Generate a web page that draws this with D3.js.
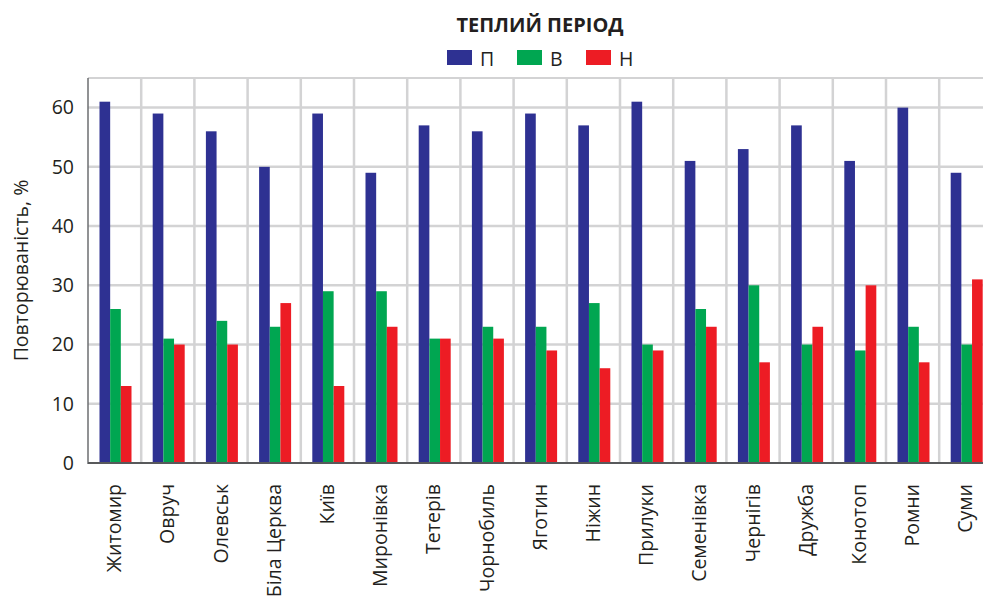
<!DOCTYPE html>
<html><head><meta charset="utf-8">
<script src="https://cdn.jsdelivr.net/npm/d3@7"></script>
<style>body{margin:0;background:#fff;} svg{display:block;font-family:"Open Sans",sans-serif;}</style>
</head><body>
<svg id="chart" width="983" height="598"></svg>
<script>
const categories = ["Житомир","Овруч","Олевськ","Біла Церква","Київ","Миронівка","Тетерів","Чорнобиль","Яготин","Ніжин","Прилуки","Семенівка","Чернігів","Дружба","Конотоп","Ромни","Суми"];
const seriesNames = ["П","В","Н"];
const valuesP = [61,59,56,50,59,49,57,56,59,57,61,51,53,57,51,60,49];
const valuesV = [26,21,24,23,29,29,21,23,23,27,20,26,30,20,19,23,20];
const valuesN = [13,20,20,27,13,23,21,21,19,16,19,23,17,23,30,17,31];
const yTicks = [0,10,20,30,40,50,60];
const colors = ["#2e3192","#00a651","#ed1c24"];
const title = "ТЕПЛИЙ ПЕРІОД";
const yTitle = "Повторюваність, %";

const series = [valuesP, valuesV, valuesN];
const svg = d3.select("#chart");
const mLeft = 88, mTop = 78, mBottom = 463, bandW = 53.2;
const fs = 19.5;
const x = d3.scaleBand().domain(categories).range([mLeft, mLeft + bandW*categories.length]).padding(0);
const y = d3.scaleLinear().domain([0,65]).range([mBottom, mTop]);
const xs = d3.scaleBand().domain(seriesNames).range([11.5, 43.5]).padding(0);

// gridlines
const g = svg.append("g");
g.selectAll(".hg").data(yTicks.filter(d=>d>0)).join("line")
  .attr("x1", mLeft).attr("x2", 983).attr("y1", d=>y(d)).attr("y2", d=>y(d))
  .attr("stroke", "#d3d3d4").attr("stroke-width", 2.5);
g.append("line").attr("x1", mLeft).attr("x2", 983).attr("y1", mTop).attr("y2", mTop)
  .attr("stroke", "#d3d3d4").attr("stroke-width", 2);
g.selectAll(".vg").data(categories.slice(1)).join("line")
  .attr("x1", d=>x(d)).attr("x2", d=>x(d)).attr("y1", mTop).attr("y2", mBottom)
  .attr("stroke", "#d3d3d4").attr("stroke-width", 2.5);

// bars
const groups = svg.append("g").selectAll("g").data(categories).join("g")
  .attr("transform", d=>`translate(${x(d)},0)`);
groups.selectAll("rect").data((c,i)=>seriesNames.map((s,j)=>({s, v: series[j][i], j})))
  .join("rect")
  .attr("x", d=>xs(d.s)).attr("width", xs.bandwidth())
  .attr("y", d=>y(d.v)).attr("height", d=>mBottom - y(d.v))
  .attr("fill", d=>colors[d.j]);

// axes frame
svg.append("line").attr("x1", mLeft).attr("x2", mLeft).attr("y1", mTop).attr("y2", mBottom+1)
  .attr("stroke", "#6d6e71").attr("stroke-width", 1.5);
svg.append("line").attr("x1", mLeft).attr("x2", 983).attr("y1", mBottom).attr("y2", mBottom)
  .attr("stroke", "#58595b").attr("stroke-width", 2);

// y axis
const yAxis = d3.axisLeft(y).tickValues(yTicks).tickSize(0).tickPadding(14);
const ya = svg.append("g").attr("transform", `translate(${mLeft},0)`).call(yAxis);
ya.select(".domain").remove();
ya.selectAll("text").attr("font-size", fs).attr("fill", "#231f20").attr("font-family", "'Open Sans',sans-serif");

// x axis
const xAxis = d3.axisBottom(x).tickSize(0).tickPadding(0);
const xa = svg.append("g").attr("transform", `translate(0,${mBottom})`).call(xAxis);
xa.select(".domain").remove();
xa.selectAll("text").attr("font-size", fs).attr("fill", "#231f20").attr("font-family", "'Open Sans',sans-serif")
  .attr("text-anchor", "end").attr("dy", null).attr("y", null)
  .attr("transform", "translate(-1,21) rotate(-90)").attr("dominant-baseline", "central");

// y title
svg.append("text").attr("transform", `translate(20,${(mTop+mBottom)/2}) rotate(-90)`)
  .attr("text-anchor", "middle").attr("dominant-baseline", "central")
  .attr("font-size", fs).attr("fill", "#231f20").text(yTitle);

// title
svg.append("text").attr("x", 540).attr("y", 32).attr("text-anchor", "middle")
  .attr("font-size", 20).attr("font-weight", "bold").attr("fill", "#231f20").text(title);

// legend
const legX = [447, 517, 586];
const leg = svg.append("g").selectAll("g").data(seriesNames).join("g")
  .attr("transform", (d,i)=>`translate(${legX[i]},50)`);
leg.append("rect").attr("width", 25).attr("height", 15).attr("fill", (d,i)=>colors[i]);
leg.append("text").attr("x", 33).attr("y", 8).attr("dominant-baseline", "central")
  .attr("font-size", fs).attr("fill", "#231f20").text(d=>d);
</script>
</body></html>
